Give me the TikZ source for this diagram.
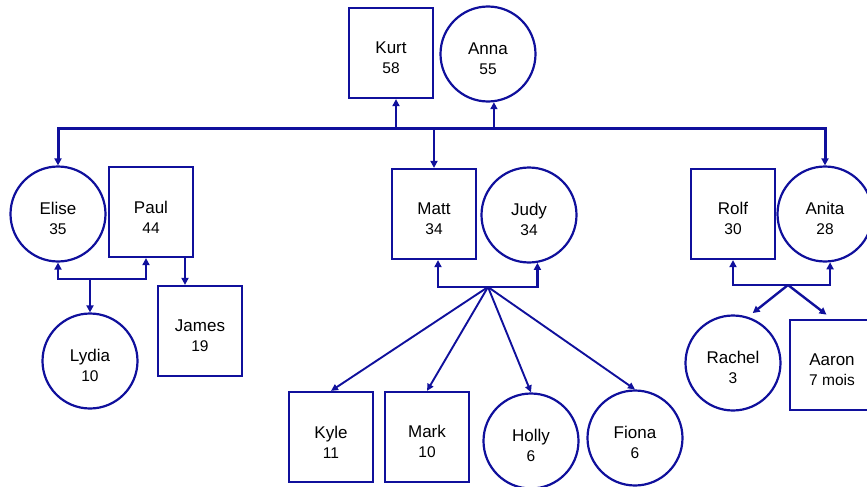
\documentclass[tikz,border=0pt]{standalone}
\usepackage{fontspec}
\setmainfont{Liberation Sans}
\usepackage{tikz}
\usetikzlibrary{arrows.meta}
\definecolor{navy}{HTML}{10109C}
\newcommand{\ageline}[1]{{\fontsize{15.5}{19}\selectfont #1}}
\tikzset{
  person/.style={draw=navy, line width=2.2pt, align=center, inner sep=0pt, text height=42pt, font=\fontsize{17}{20}\selectfont},
  male/.style={person, rectangle, minimum width=84pt, minimum height=90pt},
  female/.style={person, circle, minimum size=95pt},
  bus/.style={draw=navy, line width=3pt},
  arr/.style={draw=navy, line width=2.4pt, -{Triangle[length=7pt,width=7pt]}},
  fan/.style={draw=navy, line width=1.9pt, -{Triangle[length=7pt,width=6.5pt]}}
}

\begin{document}
\begin{tikzpicture}[x=1pt, y=-1pt]
  \useasboundingbox (0,0) rectangle (867,487);

  % grandparents
  \node[male]   (Kurt)  at (391,53)  {Kurt\\\ageline{58}};
  \node[female] (Anna)  at (488,54)  {Anna\\\ageline{55}};

  % children and partners
  \node[female] (Elise) at (58,214)  {Elise\\\ageline{35}};
  \node[male]   (Paul)  at (151,212) {Paul\\\ageline{44}};
  \node[male]   (Matt)  at (434,214) {Matt\\\ageline{34}};
  \node[female] (Judy)  at (529,215) {Judy\\\ageline{34}};
  \node[male]   (Rolf)  at (733,214) {Rolf\\\ageline{30}};
  \node[female] (Anita) at (825,214) {Anita\\\ageline{28}};

  % grandchildren
  \node[female] (Lydia)  at (90,361)  {Lydia\\\ageline{10}};
  \node[male]   (James)  at (200,331) {James\\\ageline{19}};
  \node[male]   (Kyle)   at (331,437) {Kyle\\\ageline{11}};
  \node[male]   (Mark)   at (427,437) {Mark\\\ageline{10}};
  \node[female] (Holly)  at (531,441) {Holly\\\ageline{6}};
  \node[female] (Fiona)  at (635,438) {Fiona\\\ageline{6}};
  \node[female] (Rachel) at (733,363) {Rachel\\\ageline{3}};
  \node[male]   (Aaron)  at (832,365) {Aaron\\\ageline{7 mois}};

  \coordinate (busy) at (0,128);
  \coordinate (ep) at (90,279);
  \coordinate (mj) at (488,287);
  \coordinate (ra) at (788,285);

  % main family line
  \draw[bus, {Triangle[length=7pt,width=7pt]}-{Triangle[length=7pt,width=7pt]}]
    (Elise.north) -- (Elise.north |- busy) -| (Anita.north);
  \draw[arr] ([xshift=5pt]Kurt.south |- busy) -- ([xshift=5pt]Kurt.south);
  \draw[arr] (Anna.-83 |- busy) -- (Anna.-83);
  \draw[arr] (Matt.north |- busy) -- (Matt.north);

  % Elise and Paul
  \draw[arr] (ep) -| (Elise.south);
  \draw[arr] (ep) -| ([xshift=-5pt]Paul.south);
  \draw[arr] (ep) -- (Lydia.north);
  \draw[arr] ([xshift=34pt]Paul.south) -- ([xshift=34pt]Paul.south |- James.north);

  % Matt and Judy
  \draw[arr] (mj) -| ([xshift=4pt]Matt.south);
  \draw[arr] (mj) -| (Judy.-80);
  \foreach \kid in {Kyle,Mark,Holly,Fiona}
    \draw[fan] (mj) -- (\kid.north);

  % Rolf and Anita
  \draw[arr] (ra) -| (Rolf.south);
  \draw[arr] (ra) -| (Anita.-84);
  \draw[arr, shorten >=6pt] (ra) -- (Rachel.72);
  \draw[arr, shorten >=7pt] (ra) -- (Aaron.north);
\end{tikzpicture}
\end{document}
